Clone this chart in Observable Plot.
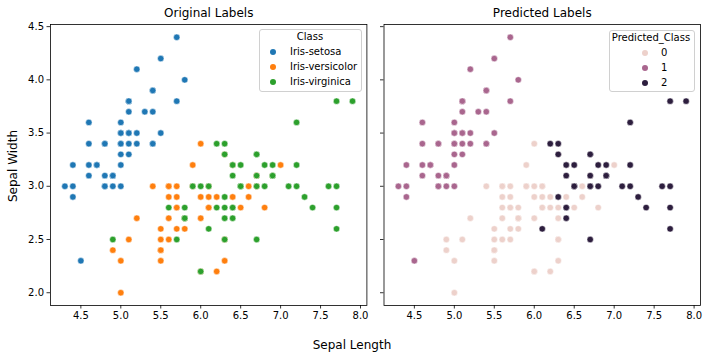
<!DOCTYPE html>
<html>
<head>
<meta charset="utf-8">
<script src="https://cdn.jsdelivr.net/npm/d3@7"></script>
<script src="https://cdn.jsdelivr.net/npm/@observablehq/plot@0.6"></script>
<style>
  body { margin: 0; background: white; }
  #wrap { position: relative; width: 707px; height: 360px; font-family: "DejaVu Sans", sans-serif; color: black; overflow: hidden; }
  #wrap svg { position: absolute; left: 0; top: 0; }
  .lbl { position: absolute; white-space: nowrap; transform: translate(-50%, -50%); line-height: 1; }
  .box { position: absolute; border: 1px solid #d0d0d0; border-radius: 3px; background: rgba(255,255,255,0.8); box-sizing: border-box; }
  .sw { position: absolute; width: 6px; height: 6px; border-radius: 50%; transform: translate(-50%, -50%); }
  .lt { position: absolute; white-space: nowrap; transform: translateY(-50%); font-size: 10px; line-height: 1; }
</style>
</head>
<body>
<div id="wrap"></div>
<script>
// ---- data (Iris: sepal length / sepal width) ----
const setosaLength = [5.1,4.9,4.7,4.6,5.0,5.4,4.6,5.0,4.4,4.9,5.4,4.8,4.8,4.3,5.8,5.7,5.4,5.1,5.7,5.1,5.4,5.1,4.6,5.1,4.8,5.0,5.0,5.2,5.2,4.7,4.8,5.4,5.2,5.5,4.9,5.0,5.5,4.9,4.4,5.1,5.0,4.5,4.4,5.0,5.1,4.8,5.1,4.6,5.3,5.0];
const setosaWidth  = [3.5,3.0,3.2,3.1,3.6,3.9,3.4,3.4,2.9,3.1,3.7,3.4,3.0,3.0,4.0,4.4,3.9,3.5,3.8,3.8,3.4,3.7,3.6,3.3,3.4,3.0,3.4,3.5,3.4,3.2,3.1,3.4,4.1,4.2,3.1,3.2,3.5,3.1,3.0,3.4,3.5,2.3,3.2,3.5,3.8,3.0,3.8,3.2,3.7,3.3];
const versicolorLength = [7.0,6.4,6.9,5.5,6.5,5.7,6.3,4.9,6.6,5.2,5.0,5.9,6.0,6.1,5.6,6.7,5.6,5.8,6.2,5.6,5.9,6.1,6.3,6.1,6.4,6.6,6.8,6.7,6.0,5.7,5.5,5.5,5.8,6.0,5.4,6.0,6.7,6.3,5.6,5.5,5.5,6.1,5.8,5.0,5.6,5.7,5.7,6.2,5.1,5.7];
const versicolorWidth  = [3.2,3.2,3.1,2.3,2.8,2.8,3.3,2.4,2.9,2.7,2.0,3.0,2.2,2.9,2.9,3.1,3.0,2.7,2.2,2.5,3.2,2.8,2.5,2.8,2.9,3.0,2.8,3.0,2.9,2.6,2.4,2.4,2.7,2.7,3.0,3.4,3.1,2.3,3.0,2.5,2.6,3.0,2.6,2.3,2.7,3.0,2.9,2.9,2.5,2.8];
const virginicaLength = [6.3,5.8,7.1,6.3,6.5,7.6,4.9,7.3,6.7,7.2,6.5,6.4,6.8,5.7,5.8,6.4,6.5,7.7,7.7,6.0,6.9,5.6,7.7,6.3,6.7,7.2,6.2,6.1,6.4,7.2,7.4,7.9,6.4,6.3,6.1,7.7,6.3,6.4,6.0,6.9,6.7,6.9,5.8,6.8,6.7,6.7,6.3,6.5,6.2,5.9];
const virginicaWidth  = [3.3,2.7,3.0,2.9,3.0,3.0,2.5,2.9,2.5,3.6,3.2,2.7,3.0,2.5,2.8,3.2,3.0,3.8,2.6,2.2,3.2,2.8,2.8,2.7,3.3,3.2,2.8,3.0,2.8,3.0,2.8,3.8,2.8,2.8,2.6,3.0,3.4,3.1,3.0,3.1,3.1,3.1,2.7,3.2,3.3,3.0,2.5,3.0,3.4,3.0];

const setosaPred     = [1,1,1,1,1,1,1,1,1,1,1,1,1,1,1,1,1,1,1,1,1,1,1,1,1,1,1,1,1,1,1,1,1,1,1,1,1,1,1,1,1,1,1,1,1,1,1,1,1,1];
const versicolorPred = [0,0,2,0,0,0,0,0,0,0,0,0,0,0,0,0,0,0,0,0,0,0,0,0,0,0,0,2,0,0,0,0,0,0,0,0,0,0,0,0,0,0,0,0,0,0,0,0,0,0];
const virginicaPred  = [2,0,2,2,2,2,0,2,2,2,2,2,2,0,0,2,2,2,2,0,2,0,2,0,2,2,0,0,2,2,2,2,2,0,2,2,2,2,0,2,2,2,0,2,2,2,0,2,2,0];

const classNames  = ["Iris-setosa", "Iris-versicolor", "Iris-virginica"];
const classColors = ["#1f77b4", "#ff7f0e", "#2ca02c"];
const predDomain  = [0, 1, 2];
const predColors  = ["#edd1cb", "#a9668e", "#2d1e3e"];
const xTicks = [4.5, 5.0, 5.5, 6.0, 6.5, 7.0, 7.5, 8.0];
const yTicks = [2.0, 2.5, 3.0, 3.5, 4.0, 4.5];

// ---- build rows ----
const groups = [
  [classNames[0], setosaLength, setosaWidth, setosaPred],
  [classNames[1], versicolorLength, versicolorWidth, versicolorPred],
  [classNames[2], virginicaLength, virginicaWidth, virginicaPred]
];
const rows = [];
for (const [cls, L, W, P] of groups) {
  L.forEach((v, i) => rows.push({length: v, width: W[i], cls, pred: P[i]}));
}

const wrap = document.getElementById("wrap");
const W = 707, H = 335;

function panel({left, right, fill, color, title, showYLabels}) {
  return Plot.plot({
    width: W, height: H,
    marginLeft: left, marginRight: W - right, marginTop: 24, marginBottom: H - 305,
    x: {domain: [4.12, 8.08]},
    y: {domain: [1.88, 4.52]},
    color,
    style: {background: "transparent", fontFamily: "DejaVu Sans", fontSize: "10px", color: "black", overflow: "visible"},
    marks: [
      Plot.dot(rows, {x: "length", y: "width", fill, r: 3.2, stroke: "white", strokeWidth: 0.5}),
      Plot.axisX({ticks: xTicks, tickFormat: d => d.toFixed(1), tickSize: 3.5, tickPadding: 3, label: null, stroke: "black", strokeWidth: 0.8, fill: "black", fontSize: 10}),
      Plot.axisY({ticks: yTicks, tickFormat: showYLabels ? (d => d.toFixed(1)) : (() => ""), tickSize: 3.5, tickPadding: 3, label: null, stroke: "black", strokeWidth: 0.8, fill: "black", fontSize: 10}),
      Plot.frame({stroke: "black", strokeWidth: 0.8}),
      Plot.text([title], {frameAnchor: "top", dy: -11.5, lineAnchor: "middle", fontSize: 12, fill: "black"})
    ]
  });
}

wrap.appendChild(panel({
  left: 50, right: 366.4, fill: "cls",
  color: {domain: classNames, range: classColors},
  title: "Original Labels", showYLabels: true
}));
wrap.appendChild(panel({
  left: 383.5, right: 700, fill: d => String(d.pred),
  color: {domain: predDomain.map(String), range: predColors},
  title: "Predicted Labels", showYLabels: false
}));

// ---- legends ----
function legend({x0, y0, x1, y1, title, titleX, titleY, markerX, textX, ys, labels, colors}) {
  const box = document.createElement("div");
  box.className = "box";
  Object.assign(box.style, {left: x0 + "px", top: y0 + "px", width: (x1 - x0) + "px", height: (y1 - y0) + "px"});
  wrap.appendChild(box);
  const t = document.createElement("div");
  t.className = "lbl";
  t.textContent = title;
  Object.assign(t.style, {left: titleX + "px", top: titleY + "px", fontSize: "10px"});
  wrap.appendChild(t);
  labels.forEach((lab, i) => {
    const s = document.createElement("div");
    s.className = "sw";
    Object.assign(s.style, {left: markerX + "px", top: ys[i] + "px", background: colors[i]});
    wrap.appendChild(s);
    const tx = document.createElement("div");
    tx.className = "lt";
    tx.textContent = lab;
    Object.assign(tx.style, {left: textX + "px", top: ys[i] + "px"});
    wrap.appendChild(tx);
  });
}
legend({x0: 258.5, y0: 28.5, x1: 361.5, y1: 91.5, title: "Class", titleX: 310, titleY: 36.5,
  markerX: 272.5, textX: 290, ys: [52, 67, 81.5], labels: classNames, colors: classColors});
legend({x0: 608.5, y0: 29.5, x1: 694.5, y1: 92, title: "Predicted_Class", titleX: 651, titleY: 37.5,
  markerX: 644.5, textX: 661, ys: [52.5, 68, 82.5], labels: predDomain.map(String), colors: predColors});

// ---- shared axis labels ----
const xl = document.createElement("div");
xl.className = "lbl"; xl.textContent = "Sepal Length";
Object.assign(xl.style, {left: "352px", top: "345px", fontSize: "12px"});
wrap.appendChild(xl);
const yl = document.createElement("div");
yl.className = "lbl"; yl.textContent = "Sepal Width";
Object.assign(yl.style, {left: "13px", top: "166px", fontSize: "12px", transform: "translate(-50%, -50%) rotate(-90deg)"});
wrap.appendChild(yl);
</script>
</body>
</html>
